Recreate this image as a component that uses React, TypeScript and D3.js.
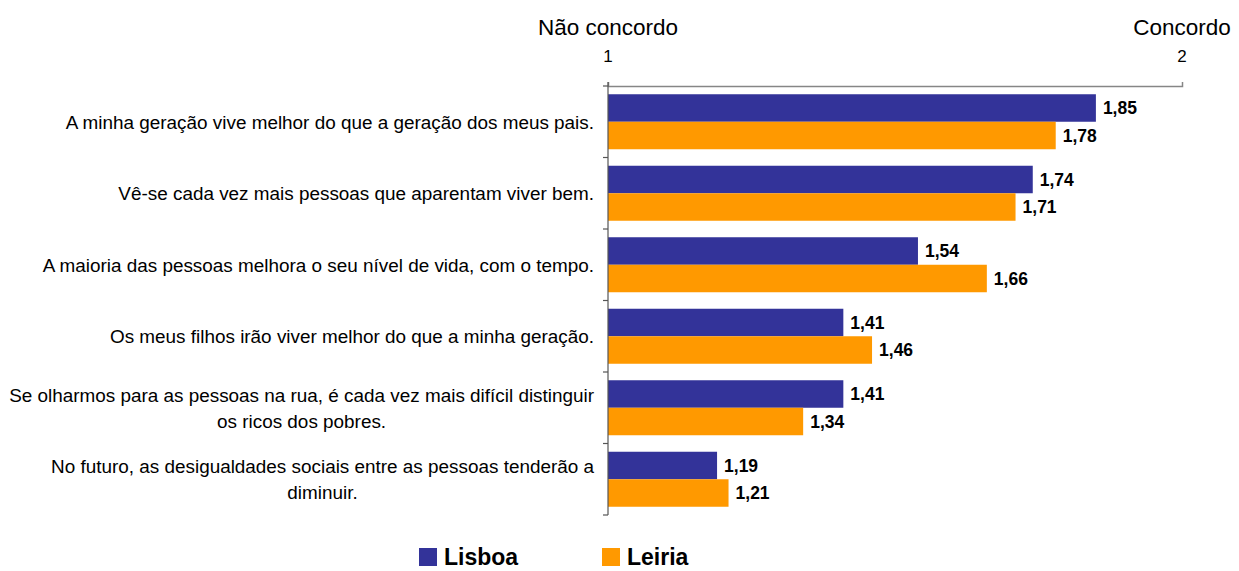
import React, { useRef, useEffect } from 'react';
import * as d3 from 'd3';

const categories = [
  'A minha geração vive melhor do que a geração dos meus pais.',
  'Vê-se cada vez mais pessoas que aparentam viver bem.',
  'A maioria das pessoas melhora o seu nível de vida, com o tempo.',
  'Os meus filhos irão viver melhor do que a minha geração.',
  'Se olharmos para as pessoas na rua, é cada vez mais difícil distinguir|os ricos dos pobres.',
  'No futuro, as desigualdades sociais entre as pessoas tenderão a|diminuir.',
];
const series = ['Lisboa', 'Leiria'];
const lisboa = [1.85, 1.74, 1.54, 1.41, 1.41, 1.19];
const leiria = [1.78, 1.71, 1.66, 1.46, 1.34, 1.21];
const colors = ['#333399', '#FF9900'];
const xTicks = [1, 2];

const W = 1239;
const H = 571;

const App: React.FC = () => {
  const svgRef = useRef<SVGSVGElement>(null);

  useEffect(() => {
    if (!svgRef.current) return;
    const svg = d3.select(svgRef.current);
    svg.selectAll('*').remove();

    const left = 608, right = 1182, top = 86, bottom = 515;
    const font = 'Arial, "Liberation Sans", sans-serif';

    const x = d3.scaleLinear().domain([1, 2]).range([left, right]);
    const y = d3.scaleBand<number>().domain(d3.range(categories.length)).range([top, bottom]);
    const ySub = d3.scaleBand<number>().domain([0, 1]).range([0, y.bandwidth()]).paddingOuter(0.3);

    const values = [lisboa, leiria];

    // bars + value labels
    values.forEach((vals, s) => {
      svg.append('g').selectAll('rect')
        .data(vals)
        .enter()
        .append('rect')
        .attr('x', x(1))
        .attr('y', (_, i) => (y(i) as number) + (ySub(s) as number))
        .attr('width', d => x(d) - x(1))
        .attr('height', ySub.bandwidth())
        .attr('fill', colors[s]);

      svg.append('g').selectAll('text')
        .data(vals)
        .enter()
        .append('text')
        .attr('x', d => x(d) + 7)
        .attr('y', (_, i) => (y(i) as number) + (ySub(s) as number) + ySub.bandwidth() / 2)
        .attr('dy', '0.36em')
        .style('font-family', font)
        .style('font-size', '17.5px')
        .style('font-weight', 'bold')
        .style('fill', '#000')
        .text(d => d.toFixed(2).replace('.', ','));
    });

    // top axis
    const xAxis = svg.append('g')
      .attr('transform', `translate(0, ${top})`)
      .call(d3.axisTop(x).tickValues(xTicks).tickSize(4).tickFormat(() => ''));
    xAxis.select('.domain').attr('stroke', '#868686').attr('stroke-width', 1.5);
    xAxis.selectAll('.tick line').attr('stroke', '#868686');

    xTicks.forEach(t => {
      svg.append('text')
        .attr('x', x(t))
        .attr('y', 62)
        .attr('text-anchor', 'middle')
        .style('font-family', font)
        .style('font-size', '17px')
        .style('fill', '#000')
        .text(String(t));
    });

    // axis titles
    svg.append('text')
      .attr('x', x(1))
      .attr('y', 35)
      .attr('text-anchor', 'middle')
      .style('font-family', font)
      .style('font-size', '22.5px')
      .style('fill', '#000')
      .text('Não concordo');
    svg.append('text')
      .attr('x', x(2))
      .attr('y', 35)
      .attr('text-anchor', 'middle')
      .style('font-family', font)
      .style('font-size', '22.5px')
      .style('fill', '#000')
      .text('Concordo');

    // left axis, ticks at category boundaries
    const leftAxis = svg.append('g');
    leftAxis.append('line')
      .attr('x1', left).attr('x2', left)
      .attr('y1', top - 4).attr('y2', bottom)
      .attr('stroke', '#555').attr('stroke-width', 1.2);
    d3.range(categories.length + 1).forEach(i => {
      const yy = i < categories.length ? (y(i) as number) : bottom;
      leftAxis.append('line')
        .attr('x1', left - 5).attr('x2', left)
        .attr('y1', yy).attr('y2', yy)
        .attr('stroke', '#555').attr('stroke-width', 1.2);
    });

    // category labels
    const labelRight = 594;
    const lineH = 26;
    categories.forEach((c, i) => {
      const lines = c.split('|');
      const cy = (y(i) as number) + y.bandwidth() / 2;
      const g = svg.append('g');
      const texts = lines.map((ln, k) =>
        g.append('text')
          .attr('y', cy + (k - (lines.length - 1) / 2) * lineH)
          .attr('dy', '0.36em')
          .style('font-family', font)
          .style('font-size', '18.9px')
          .style('fill', '#000')
          .text(ln)
      );
      if (lines.length === 1) {
        texts[0].attr('x', labelRight).attr('text-anchor', 'end');
      } else {
        const w0 = (texts[0].node() as SVGTextElement).getComputedTextLength();
        const cx = labelRight - w0 / 2;
        texts.forEach(t => t.attr('x', cx).attr('text-anchor', 'middle'));
      }
    });

    // legend
    const legendX = [419, 602];
    series.forEach((s, i) => {
      svg.append('rect')
        .attr('x', legendX[i]).attr('y', 548)
        .attr('width', 18).attr('height', 18)
        .attr('fill', colors[i]);
      svg.append('text')
        .attr('x', legendX[i] + 25)
        .attr('y', 565)
        .style('font-family', font)
        .style('font-size', '23px')
        .style('font-weight', 'bold')
        .style('fill', '#000')
        .text(s);
    });
  }, []);

  return (
    <svg ref={svgRef} width={W} height={H}
      style={{ position: 'absolute', left: 0, top: 0, background: '#fff' }} />
  );
};

export default App;
